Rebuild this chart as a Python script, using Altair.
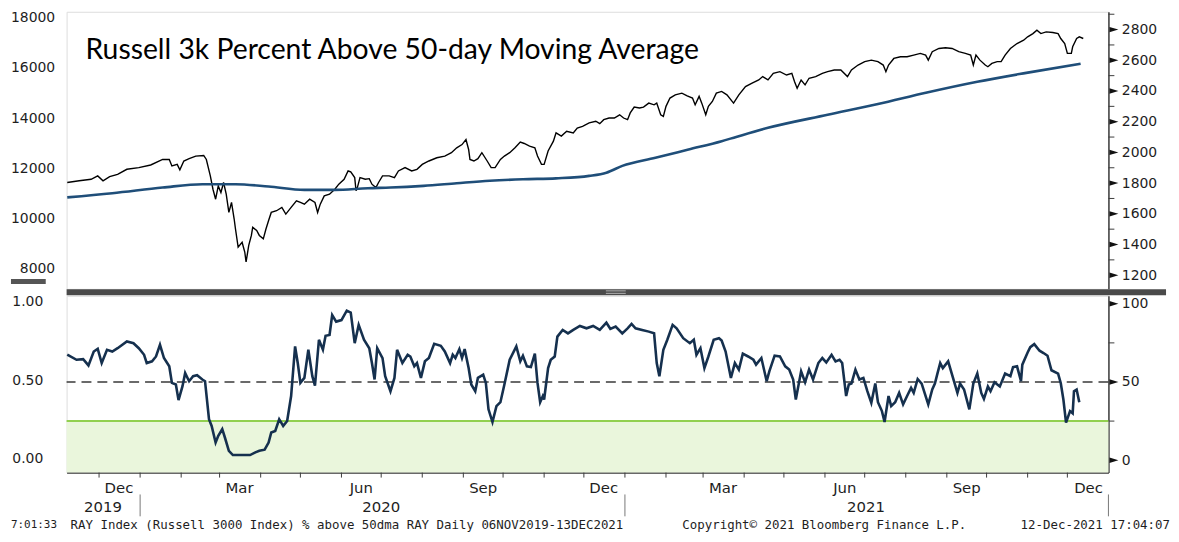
import altair as alt
import pandas as pd

START = "2019-11-06"
TITLE = "Russell 3k Percent Above 50-day Moving Average"

# Russell 3000 price (days after 06-Nov-2019, index level)
price_days = [1, 10, 19, 24, 28, 33, 39, 46, 55, 64, 73, 78, 80, 84, 86, 89, 93, 98, 104, 106,
              109, 111, 113, 115, 117, 119, 121, 123, 125, 127, 128, 130, 133, 135, 136, 138, 140, 141, 144, 146,
              149, 151, 153, 155, 159, 163, 166, 170, 174, 177, 180, 184, 188, 190, 192, 195, 199, 203, 206, 210,
              213, 215, 218, 219, 220, 222, 226, 229, 231, 234, 236, 239, 244, 248, 251, 256, 261, 265, 269, 274,
              280, 286, 291, 295, 299, 302, 304, 305, 308, 311, 314, 318, 321, 324, 328, 331, 335, 339, 343, 346,
              350, 354, 356, 359, 361, 364, 368, 370, 374, 378, 383, 386, 390, 395, 400, 403, 406, 410, 414, 418,
              421, 424, 426, 429, 433, 436, 440, 444, 446, 449, 451, 453, 456, 460, 465, 469, 473, 475, 478, 480,
              483, 485, 488, 491, 495, 499, 504, 508, 513, 518, 523, 526, 530, 534, 539, 544, 548, 550, 552, 555,
              558, 561, 566, 571, 575, 580, 585, 590, 593, 598, 603, 608, 613, 617, 619, 621, 625, 630, 635, 640,
              645, 649, 651, 654, 659, 664, 669, 674, 679, 683, 685, 687, 690, 694, 696, 699, 703, 706, 709, 713,
              718, 723, 726, 730, 733, 736, 740, 745, 749, 751, 754, 756, 759, 760, 763, 765, 768]
price_vals = [1804, 1815, 1825, 1847, 1815, 1842, 1857, 1890, 1901, 1918, 1954, 1954, 1912, 1922, 1886, 1944, 1959, 1976, 1980, 1954,
              1847, 1760, 1695, 1782, 1739, 1804, 1728, 1609, 1674, 1566, 1501, 1383, 1415, 1351, 1286, 1394, 1459, 1512, 1491, 1459,
              1437, 1501, 1556, 1609, 1620, 1642, 1598, 1642, 1685, 1674, 1663, 1695, 1674, 1609, 1663, 1717, 1728, 1760, 1793, 1825,
              1879, 1873, 1836, 1750, 1771, 1836, 1825, 1829, 1793, 1771, 1804, 1847, 1847, 1836, 1879, 1901, 1879, 1890, 1922, 1944,
              1965, 1976, 1998, 2030, 2051, 2084, 2019, 1954, 1944, 1959, 1998, 1944, 1901, 1901, 1954, 1976, 1998, 2030, 2067, 2058,
              2041, 2030, 1976, 1922, 1922, 2009, 2073, 2127, 2106, 2138, 2127, 2159, 2170, 2192, 2203, 2187, 2213, 2224, 2224, 2245,
              2224, 2213, 2257, 2295, 2289, 2295, 2321, 2310, 2321, 2245, 2235, 2300, 2354, 2375, 2386, 2368, 2354, 2310, 2365, 2321,
              2245, 2300, 2332, 2386, 2397, 2375, 2321, 2375, 2429, 2451, 2472, 2494, 2472, 2515, 2526, 2504, 2515, 2462, 2418, 2472,
              2440, 2483, 2494, 2515, 2526, 2537, 2537, 2494, 2537, 2569, 2591, 2601, 2591, 2569, 2526, 2569, 2612, 2623, 2623, 2634,
              2645, 2634, 2601, 2656, 2677, 2682, 2677, 2656, 2645, 2634, 2569, 2634, 2601, 2569, 2558, 2580, 2591, 2591, 2634, 2677,
              2709, 2731, 2753, 2774, 2796, 2774, 2785, 2781, 2774, 2742, 2709, 2645, 2645, 2688, 2742, 2753, 2742]

# 200-day moving average
ma_days = [1, 35, 73, 103, 128, 153, 180, 203, 228, 245, 270, 295, 320, 345, 370, 395, 408, 420, 445, 470,
           495, 506, 530, 575, 613, 650, 688, 725, 766]
ma_vals = [1707, 1734, 1771, 1793, 1793, 1778, 1756, 1756, 1767, 1771, 1782, 1799, 1815, 1825, 1831, 1847, 1868, 1912, 1965, 2019,
           2073, 2101, 2160, 2245, 2315, 2390, 2460, 2518, 2578]

# % of members above 50-day moving average
pct_days = [1, 8, 13, 17, 21, 24, 27, 31, 35, 39, 46, 51, 55, 59, 61, 65, 68, 71, 74, 78,
            80, 83, 85, 88, 90, 93, 96, 99, 103, 105, 108, 110, 113, 115, 118, 120, 123, 126, 133, 139,
            143, 146, 150, 153, 155, 158, 161, 164, 167, 170, 173, 175, 177, 180, 183, 186, 188, 191, 194, 196,
            199, 201, 204, 208, 212, 215, 218, 221, 225, 229, 231, 233, 235, 239, 241, 245, 248, 250, 254, 258,
            260, 263, 265, 268, 271, 274, 278, 283, 286, 290, 292, 294, 297, 299, 301, 304, 306, 309, 311, 315,
            317, 319, 322, 325, 328, 331, 335, 340, 343, 345, 348, 351, 354, 356, 358, 360, 361, 364, 366, 369,
            371, 375, 379, 383, 388, 393, 398, 403, 408, 411, 415, 420, 424, 427, 430, 435, 440, 444, 446, 448,
            451, 454, 458, 461, 466, 471, 474, 476, 479, 482, 485, 489, 493, 495, 498, 502, 505, 508, 511, 515,
            519, 521, 525, 529, 531, 535, 539, 543, 546, 549, 551, 555, 558, 561, 564, 568, 571, 574, 578, 581,
            584, 586, 589, 591, 593, 596, 599, 602, 605, 608, 611, 613, 616, 618, 621, 623, 626, 629, 632, 635,
            638, 640, 643, 646, 651, 654, 656, 658, 660, 662, 666, 670, 673, 675, 678, 682, 685, 688, 691, 693,
            696, 698, 701, 705, 709, 713, 715, 718, 721, 722, 726, 728, 731, 735, 738, 741, 744, 749, 751, 753,
            755, 758, 760, 761, 763, 765]
pct_vals = [67.5, 64.2, 64.6, 60.6, 69.5, 71.2, 62.1, 70.6, 69.5, 71.6, 75.9, 74.8, 71.6, 67.4, 62.1, 63.2, 66.3, 73.8, 65.3, 60.0,
            49.4, 48.4, 38.4, 47.3, 55.7, 50.5, 53.7, 54.3, 51.6, 50.5, 26.2, 21.9, 11.3, 15.6, 19.8, 14.5, 6.0, 3.3, 3.3, 3.3,
            5.0, 6.0, 6.7, 11.3, 17.7, 18.7, 26.2, 21.9, 25.1, 41.0, 72.7, 62.1, 49.4, 52.6, 70.6, 53.7, 47.7, 77.0, 70.6, 79.5,
            80.1, 92.8, 88.6, 89.6, 95.6, 94.3, 74.8, 86.5, 77.0, 71.6, 62.1, 51.6, 71.6, 65.3, 53.7, 44.1, 52.6, 70.6, 62.1, 67.4,
            66.3, 60.0, 62.1, 52.6, 63.2, 65.3, 74.4, 73.1, 69.5, 62.1, 67.4, 65.3, 71.0, 65.3, 71.0, 58.9, 48.4, 44.1, 52.6, 54.7,
            49.4, 32.5, 24.4, 34.6, 37.1, 48.4, 64.2, 72.7, 63.2, 66.8, 60.0, 59.5, 68.1, 49.4, 37.1, 41.0, 38.8, 58.9, 64.2, 66.3,
            79.0, 83.3, 81.1, 83.3, 85.8, 84.3, 85.8, 83.3, 87.9, 83.9, 85.4, 81.1, 84.3, 87.1, 84.3, 83.3, 82.2, 81.1, 62.1, 53.7,
            70.6, 77.0, 86.5, 84.3, 78.0, 74.8, 77.0, 67.4, 71.6, 58.9, 66.3, 77.0, 78.0, 76.5, 69.5, 52.6, 62.1, 57.9, 68.1, 66.3,
            64.2, 61.1, 65.3, 50.5, 56.8, 66.8, 66.3, 60.0, 57.9, 51.6, 38.8, 56.8, 49.8, 57.9, 51.6, 62.1, 65.3, 62.5, 67.4, 63.2,
            64.2, 62.1, 41.0, 48.4, 49.0, 57.9, 51.6, 52.6, 44.1, 36.7, 49.0, 37.1, 31.4, 24.4, 41.0, 34.6, 37.1, 43.0, 35.7, 41.0,
            46.2, 43.0, 51.9, 49.0, 35.7, 45.2, 49.0, 55.7, 62.1, 58.9, 63.2, 51.6, 43.0, 49.0, 45.2, 32.5, 49.0, 55.4, 43.0, 39.2,
            47.1, 44.1, 49.8, 47.1, 55.4, 53.7, 59.5, 60.0, 50.5, 61.1, 68.9, 72.3, 74.2, 70.0, 68.5, 66.8, 57.5, 55.4, 49.4, 38.8,
            24.0, 31.4, 30.0, 44.1, 45.2, 37.1]

# axes / reference levels
right_top_ticks = [1200, 1400, 1600, 1800, 2000, 2200, 2400, 2600, 2800]
right_top_minor = [1300, 1500, 1700, 1900, 2100, 2300, 2500, 2700, 2900]
left_top_ticks = [8000, 10000, 12000, 14000, 16000, 18000]
right_bot_ticks = [0, 50, 100]
right_bot_minor = [25, 75]
left_bot_ticks = [0.0, 0.5, 1.0]
level_dash = [50]
level_green = [25]
month_ticks = ["2019-12-01", "2020-01-01", "2020-02-01", "2020-03-01", "2020-04-01", "2020-05-01", "2020-06-01",
               "2020-07-01", "2020-08-01", "2020-09-01", "2020-10-01", "2020-11-01", "2020-12-01", "2021-01-01",
               "2021-02-01", "2021-03-01", "2021-04-01", "2021-05-01", "2021-06-01", "2021-07-01", "2021-08-01",
               "2021-09-01", "2021-10-01", "2021-11-01", "2021-12-01"]
month_labels = ["Dec", "Mar", "Jun", "Sep", "Dec", "Mar", "Jun", "Sep", "Dec"]
month_label_dates = ["2019-12-16", "2020-03-16", "2020-06-16", "2020-09-16", "2020-12-16",
                     "2021-03-16", "2021-06-16", "2021-09-16", "2021-12-17"]
year_labels = ["2019", "2020", "2021"]
year_label_dates = ["2019-12-04", "2020-07-01", "2021-07-02"]
year_sep_dates = ["2020-01-01", "2021-01-01", "2022-01-01"]

base = pd.Timestamp(START)


def dated(days, vals):
    d = base + pd.to_timedelta(days, unit="D")
    return pd.DataFrame({"date": d.strftime("%Y-%m-%d"), "v": vals})


price_df = dated(price_days, price_vals)
ma_df = dated(ma_days, ma_vals)
pct_df = dated(pct_days, pct_vals)

W, H_TOP, H_BOT = 1049, 279, 178
LAB_FONT = "DejaVu Sans"
INK = "#1e1e1e"
AX = "#3c3c3c"
TRI = "M-1,-0.6L1,0L-1,0.6Z"

xscale = alt.Scale(domain=[alt.DateTime(year=2019, month=11, date=6, hours=12, utc=True),
                           alt.DateTime(year=2022, month=1, date=1, utc=True)])
x_top = alt.X("date:T", scale=xscale, axis=None, title=None)
x_bot = alt.X("date:T", scale=xscale, title=None,
              axis=alt.Axis(labels=False, ticks=False, domain=True, domainColor=AX,
                            domainWidth=1.5, grid=False))

# ---------------- top panel ----------------
top_scale = alt.Scale(domain=[1111, 2916], nice=False, zero=False)
y_top = alt.Y("v:Q", scale=top_scale, title=None,
              axis=alt.Axis(orient="right", values=right_top_ticks, ticks=False, labelPadding=13,
                            labelFont=LAB_FONT, labelFontSize=14, labelColor=INK, domainColor=AX,
                            domainWidth=1.5, grid=False, minExtent=50, maxExtent=50, format="d"))

left_top = alt.Chart(pd.DataFrame({"lv": left_top_ticks})).mark_rule(opacity=0).encode(
    y=alt.Y("lv:Q", title=None, scale=alt.Scale(domain=[7210, 18237], nice=False, zero=False),
            axis=alt.Axis(orient="left", values=left_top_ticks, format="d", ticks=False, domain=False,
                          labelPadding=12, labelFont=LAB_FONT, labelFontSize=14, labelColor=INK,
                          grid=False, minExtent=56, maxExtent=56)))

price_line = alt.Chart(price_df).mark_line(color="black", strokeWidth=1.4).encode(x=x_top, y=y_top)
ma_line = alt.Chart(ma_df).mark_line(color="#1f4e79", strokeWidth=2.6, interpolate="monotone").encode(
    x=x_top, y=y_top)
top_tri = alt.Chart(pd.DataFrame({"v": right_top_ticks})).mark_point(
    shape=TRI, size=81, filled=True, color="#111", opacity=1).encode(x=alt.value(W + 5.5), y=y_top)
top_minor = alt.Chart(pd.DataFrame({"v": right_top_minor})).mark_rule(color=AX, strokeWidth=1).encode(
    x=alt.value(W), x2=alt.value(W + 6), y=y_top)
title_txt = alt.Chart(pd.DataFrame({"t": [TITLE]})).mark_text(
    align="left", baseline="alphabetic", font="Lato", fontSize=28.5, color="black").encode(
    x=alt.value(19), y=alt.value(48), text="t:N")
left_bar = alt.Chart(pd.DataFrame({"a": [0]})).mark_rule(color="#555555", strokeWidth=5).encode(
    x=alt.value(-56), x2=alt.value(-21), y=alt.value(271.5))

top_right = alt.layer(price_line, ma_line, top_tri, top_minor, title_txt, left_bar)
top = alt.layer(left_top, top_right).resolve_scale(y="independent").properties(width=W, height=H_TOP)

# ---------------- bottom panel ----------------
bot_scale = alt.Scale(domain=[-7.94, 105.08], nice=False, zero=False)
y_bot = alt.Y("v:Q", scale=bot_scale, title=None,
              axis=alt.Axis(orient="right", values=right_bot_ticks, ticks=False, labelPadding=13,
                            labelFont=LAB_FONT, labelFontSize=14, labelColor=INK, domainColor=AX,
                            domainWidth=1.5, grid=False, minExtent=50, maxExtent=50, format="d"))

left_bot = alt.Chart(pd.DataFrame({"lv": left_bot_ticks})).mark_rule(opacity=0).encode(
    y=alt.Y("lv:Q", title=None, scale=alt.Scale(domain=[-0.0907, 1.038], nice=False, zero=False),
            axis=alt.Axis(orient="left", values=left_bot_ticks, format=".2f", ticks=False, domain=False,
                          labelPadding=24, labelFont=LAB_FONT, labelFontSize=14, labelColor=INK,
                          grid=False, minExtent=56, maxExtent=56)))

green_fill = alt.Chart(pd.DataFrame({"v": level_green})).mark_rect(color="#eaf6dc").encode(
    x=alt.value(0), x2=alt.value(W), y=y_bot, y2=alt.value(H_BOT))
green_line = alt.Chart(pd.DataFrame({"v": level_green})).mark_rule(color="#92d050", strokeWidth=2).encode(y=y_bot)
dash_line = alt.Chart(pd.DataFrame({"v": level_dash})).mark_rule(
    color="#3a3a3a", strokeWidth=1.6, strokeDash=[10, 6]).encode(y=y_bot)
pct_line = alt.Chart(pct_df).mark_line(color="#15304e", strokeWidth=2.6).encode(x=x_bot, y=y_bot)
bot_tri = alt.Chart(pd.DataFrame({"v": right_bot_ticks})).mark_point(
    shape=TRI, size=81, filled=True, color="#111", opacity=1).encode(x=alt.value(W + 5.5), y=y_bot)
bot_minor = alt.Chart(pd.DataFrame({"v": right_bot_minor})).mark_rule(color=AX, strokeWidth=1).encode(
    x=alt.value(W), x2=alt.value(W + 6), y=y_bot)

mticks = alt.Chart(pd.DataFrame({"date": month_ticks})).mark_rule(color=AX, strokeWidth=1).encode(
    x=x_bot, y=alt.value(H_BOT), y2=alt.value(H_BOT + 5))
mlabels = alt.Chart(pd.DataFrame({"date": month_label_dates, "lab": month_labels})).mark_text(
    font=LAB_FONT, fontSize=15, color=INK, baseline="middle", align="center").encode(
    x=x_bot, y=alt.value(H_BOT + 16), text="lab:N")
ylabels = alt.Chart(pd.DataFrame({"date": year_label_dates, "lab": year_labels})).mark_text(
    font=LAB_FONT, fontSize=15, color=INK, baseline="middle", align="center").encode(
    x=x_bot, y=alt.value(H_BOT + 35), text="lab:N")
yseps = alt.Chart(pd.DataFrame({"date": year_sep_dates})).mark_rule(color="#777777", strokeWidth=1).encode(
    x=x_bot, y=alt.value(H_BOT + 22), y2=alt.value(H_BOT + 44))

divider = alt.Chart(pd.DataFrame({"a": [0]})).mark_rule(color="#4a4a4a", strokeWidth=6).encode(
    x=alt.value(0), x2=alt.value(W + 58), y=alt.value(-3.5))
grip = alt.Chart(pd.DataFrame({"g": [-5, -2.5]})).mark_rule(color="#b0b0b0", strokeWidth=1).encode(
    x=alt.value(543), x2=alt.value(563), y=alt.Y("g:Q", scale=None))

FOOT = dict(font="DejaVu Sans Mono", fontSize=12.5, color=INK, baseline="middle")
foot1 = alt.Chart(pd.DataFrame({"t": ["7:01:33"]})).mark_text(
    align="left", font="DejaVu Sans Mono", fontSize=11, color=INK, baseline="middle").encode(
    x=alt.value(-56), y=alt.value(H_BOT + 53), text="t:N")
foot2 = alt.Chart(pd.DataFrame({"t": ["RAY Index (Russell 3000 Index) % above 50dma RAY  Daily 06NOV2019-13DEC2021"]})).mark_text(
    align="left", **FOOT).encode(x=alt.value(4), y=alt.value(H_BOT + 53), text="t:N")
foot3 = alt.Chart(pd.DataFrame({"t": ["Copyright\u00a9 2021 Bloomberg Finance L.P."]})).mark_text(
    align="left", **FOOT).encode(x=alt.value(620), y=alt.value(H_BOT + 53), text="t:N")
foot4 = alt.Chart(pd.DataFrame({"t": ["12-Dec-2021 17:04:07"]})).mark_text(
    align="right", **FOOT).encode(x=alt.value(W + 62), y=alt.value(H_BOT + 53), text="t:N")

bot_right = alt.layer(green_fill, green_line, dash_line, pct_line, bot_tri, bot_minor,
                      mticks, mlabels, ylabels, yseps, divider, grip, foot1, foot2, foot3, foot4)
bottom = alt.layer(left_bot, bot_right).resolve_scale(y="independent").properties(width=W, height=H_BOT)

chart = alt.vconcat(top, bottom, spacing=7, bounds="flush").properties(
    padding={"left": 0, "top": 0, "right": 0, "bottom": 0}
).configure_view(stroke=None).configure(background="white")

chart.save("out.html", embed_options={"renderer": "svg", "actions": False})
